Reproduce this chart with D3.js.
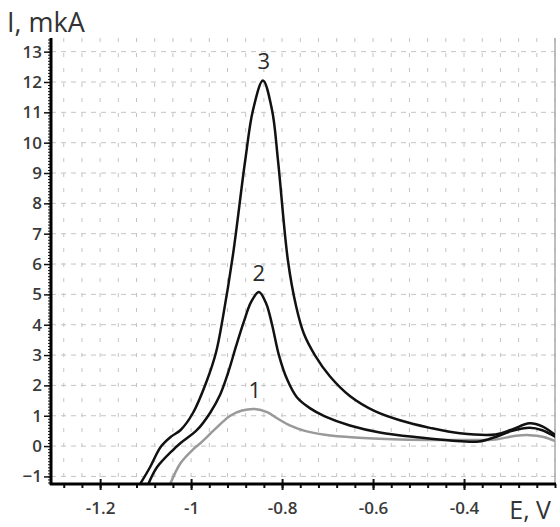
<!DOCTYPE html>
<html>
<head>
<meta charset="utf-8">
<script src="https://cdn.jsdelivr.net/npm/d3@7"></script>
<style>
  body { margin: 0; background: #fff; }
  svg text { font-family: "Open Sans", "DejaVu Sans", sans-serif; }
</style>
</head>
<body>
<svg id="chart" width="560" height="527"></svg>
<script>
// Voltammograms: E (V) vs I (mkA)
const curve1 = [
  [-1.046, -1.25], [-1.023, -0.56], [-0.995, -0.1], [-0.979, 0.1], [-0.948, 0.55],
  [-0.914, 1.0], [-0.888, 1.17], [-0.860, 1.22], [-0.833, 1.12], [-0.809, 0.9],
  [-0.783, 0.68], [-0.750, 0.5], [-0.706, 0.37], [-0.640, 0.28], [-0.541, 0.22],
  [-0.45, 0.2], [-0.38, 0.2], [-0.331, 0.22], [-0.290, 0.33], [-0.256, 0.36],
  [-0.225, 0.3], [-0.194, 0.13]
];
const curve2 = [
  [-1.094, -1.25], [-1.075, -0.7], [-1.040, -0.13], [-1.023, 0.1], [-0.987, 0.53],
  [-0.958, 1.1], [-0.936, 1.7], [-0.919, 2.4], [-0.901, 3.3], [-0.884, 4.1],
  [-0.868, 4.75], [-0.851, 5.08], [-0.835, 4.7], [-0.822, 4.0], [-0.807, 3.0],
  [-0.789, 2.2], [-0.767, 1.6], [-0.739, 1.25], [-0.706, 0.98], [-0.651, 0.68],
  [-0.585, 0.45], [-0.497, 0.28], [-0.43, 0.18], [-0.367, 0.15], [-0.331, 0.3],
  [-0.294, 0.5], [-0.256, 0.6], [-0.228, 0.52], [-0.194, 0.26]
];
const curve3 = [
  [-1.112, -1.25], [-1.090, -0.69], [-1.067, -0.03], [-1.045, 0.3], [-1.023, 0.53],
  [-0.996, 1.09], [-0.965, 2.17], [-0.945, 3.1], [-0.930, 4.25], [-0.908, 6.3],
  [-0.881, 9.42], [-0.864, 11.07], [-0.842, 12.05], [-0.822, 11.07], [-0.809, 9.42],
  [-0.787, 6.1], [-0.769, 4.6], [-0.752, 3.7], [-0.728, 3.0], [-0.695, 2.3],
  [-0.651, 1.65], [-0.596, 1.15], [-0.541, 0.85], [-0.475, 0.6], [-0.409, 0.42],
  [-0.331, 0.38], [-0.294, 0.55], [-0.256, 0.75], [-0.228, 0.65], [-0.194, 0.3]
];
const series = [
  { name: "1", points: curve1, color: "#999", label: [-0.860, 1.45] },
  { name: "2", points: curve2, color: "#111", label: [-0.851, 5.3] },
  { name: "3", points: curve3, color: "#111", label: [-0.840, 12.3] }
];
const xTicks = [-1.2, -1, -0.8, -0.6, -0.4];
const yTicks = d3.range(-1, 14);

const svg = d3.select("#chart");
const x = d3.scaleLinear().domain([-1.308, -0.2]).range([51, 555]);
const y = d3.scaleLinear().domain([-1.25, 13.45]).range([484, 38]);

// grid
const xMinor = d3.range(-1.28, -0.199, 0.04).map(v => +v.toFixed(2));
svg.append("g")
  .selectAll("line")
  .data(xMinor)
  .join("line")
  .attr("x1", d => x(d)).attr("x2", d => x(d))
  .attr("y1", y.range()[1]).attr("y2", y.range()[0])
  .attr("stroke", "#c4c4c4")
  .attr("stroke-width", 1)
  .attr("stroke-dasharray", "4,11");

svg.append("g")
  .selectAll("line")
  .data(yTicks)
  .join("line")
  .attr("x1", x.range()[0]).attr("x2", x.range()[1])
  .attr("y1", d => y(d)).attr("y2", d => y(d))
  .attr("stroke", "#c4c4c4")
  .attr("stroke-width", 1)
  .attr("stroke-dasharray", "5,5");

// right border
svg.append("line")
  .attr("x1", x.range()[1]).attr("x2", x.range()[1])
  .attr("y1", y.range()[1]).attr("y2", y.range()[0])
  .attr("stroke", "#aaa")
  .attr("stroke-width", 1.5);

// curves
svg.append("clipPath").attr("id", "plot-clip")
  .append("rect")
  .attr("x", x.range()[0]).attr("y", y.range()[1])
  .attr("width", x.range()[1] - x.range()[0])
  .attr("height", y.range()[0] - y.range()[1]);

const line = d3.line()
  .x(d => x(d[0]))
  .y(d => y(d[1]))
  .curve(d3.curveCatmullRom.alpha(0.5));

svg.append("g")
  .attr("clip-path", "url(#plot-clip)")
  .selectAll("path")
  .data(series)
  .join("path")
  .attr("d", d => line(d.points))
  .attr("fill", "none")
  .attr("stroke", d => d.color)
  .attr("stroke-width", 2.5)
  .attr("stroke-linejoin", "round");

svg.append("g")
  .selectAll("text")
  .data(series)
  .join("text")
  .attr("x", d => x(d.label[0]))
  .attr("y", d => y(d.label[1]) - 4)
  .attr("text-anchor", "middle")
  .style("font-size", "22px")
  .style("fill", "#2a2a2a")
  .text(d => d.name);

// axes
const xAxis = svg.append("g").attr("transform", `translate(0,${y.range()[0]})`);
xAxis.append("g")
  .call(d3.axisBottom(x).tickValues(xMinor).tickSize(4).tickFormat(""))
  .call(g => g.select(".domain").remove())
  .selectAll("line").attr("stroke", "#111").attr("stroke-width", 2);
xAxis.append("g")
  .call(d3.axisBottom(x).tickValues(xTicks).tickSize(6).tickPadding(12)
    .tickFormat(d => String(d)))
  .call(g => g.select(".domain").remove())
  .call(g => g.selectAll("line").attr("stroke", "#111").attr("stroke-width", 2).attr("y1", -5))
  .call(g => g.selectAll("text").style("font-size", "17px").style("font-weight", "600").style("fill", "#3a3a3a"));
xAxis.append("line")
  .attr("x1", x.range()[0] - 1).attr("x2", x.range()[1] + 1)
  .attr("stroke", "#000").attr("stroke-width", 3);

const yMinor = d3.range(-1.2, 13.41, 0.1).map(v => +v.toFixed(1));
const yAxis = svg.append("g").attr("transform", `translate(${x.range()[0]},0)`);
yAxis.append("g")
  .call(d3.axisLeft(y).tickValues(yMinor).tickSize(3).tickFormat(""))
  .call(g => g.select(".domain").remove())
  .selectAll("line").attr("stroke", "#111").attr("stroke-width", 1);
yAxis.append("g")
  .call(d3.axisLeft(y).tickValues(yTicks).tickSize(7).tickPadding(2).tickFormat(d3.format("d")))
  .call(g => g.select(".domain").remove())
  .call(g => g.selectAll("line").attr("stroke", "#111").attr("stroke-width", 1.5))
  .call(g => g.selectAll("text").style("font-size", "17px").style("font-weight", "600").style("fill", "#3a3a3a"));
yAxis.append("line")
  .attr("y1", y.range()[1]).attr("y2", y.range()[0] + 1)
  .attr("stroke", "#000").attr("stroke-width", 3);

// axis titles
svg.append("text")
  .attr("x", 7).attr("y", 32)
  .style("font-size", "27px")
  .style("fill", "#333")
  .text("I, mkA");
svg.append("text")
  .attr("x", 551).attr("y", 519)
  .attr("text-anchor", "end")
  .style("font-size", "25px")
  .style("fill", "#333")
  .text("E, V");
</script>
</body>
</html>
